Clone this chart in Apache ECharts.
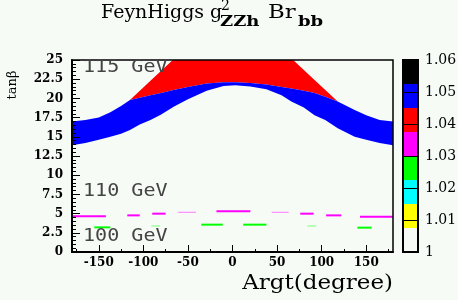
<!DOCTYPE html>
<html><head><meta charset="utf-8">
<script src="https://cdn.jsdelivr.net/npm/echarts@6/dist/echarts.min.js"></script>
<style>html,body{margin:0;padding:0;background:#f6fbf6}#c{width:458px;height:300px}</style>
</head><body><div id="c"></div>
<script>
// ---- data ----
const bandX      = [-180,-165,-150,-137,-125,-115,-104,-92,-80,-66,-50,-29,-10,3,20,38,55,66,80,92,104,118,137,150,165,180];
const blueTop    = [17.0,17.2,17.5,18.2,19.0,19.8,20.1,20.4,20.7,21.1,21.5,21.95,22.1,22.1,22.0,21.8,21.5,21.3,21.0,20.7,20.2,19.6,18.5,17.8,17.2,17.0];
const blueBottom = [13.9,14.2,14.6,15.0,15.4,15.9,16.6,17.2,17.9,18.9,19.9,21.0,21.6,21.7,21.55,21.2,20.4,19.6,18.8,17.8,17.2,16.1,15.0,14.6,14.2,13.9];
const redX   = [-115,-92,-67,68,92,118];
const redTop = [19.8,22.3,25,25,22.4,19.6];
const magX1 = [-180,-118,-90,-61,-18,44,76,105,143];
const magX2 = [-142,-104,-75,-41,20,63,91,122,180];
const magY  = [4.64,4.77,4.99,5.17,5.3,5.17,4.99,4.77,4.6];
const greenX1 = [-155,-91,-35,12,84,140];
const greenX2 = [-137,-81,-11,38,94,156];
const greenY  = [3.21,3.39,3.56,3.56,3.39,3.17];
const xTicks = [-150,-100,-50,0,50,100,150];
const xMinorTicks = [-175,-125,-75,-25,25,75,125,175];
const levels = [1,1.0075,1.015,1.0225,1.03,1.0375,1.045,1.0525,1.06];
// ---- styles ----
const BG = '#f6fbf6';
const levelColors = [BG,'#ffff00','#00ffff','#00ff00','#ff00ff','#ff0000','#0000ff','#000000'];
const magThin = [0,0,0,1,0,1,0,0,0];
const greenThin = [0,1,0,0,1,0];

const chart = echarts.init(document.getElementById('c'));
const tickFont = {fontFamily:'DejaVu Serif', fontWeight:'bold', fontSize:12, color:'#000'};

function segRender(color, light, thinArr){
  return function(params, api){
    const i = api.value(3);
    const p1 = api.coord([api.value(0), api.value(2)]);
    const p2 = api.coord([api.value(1), api.value(2)]);
    const thin = thinArr[i];
    return {type:'line', shape:{x1:p1[0],y1:p1[1],x2:p2[0],y2:p2[1]},
      style:{stroke: thin?light:color, lineWidth: thin?1:2, lineCap:'butt'}};
  };
}

const option = {
  backgroundColor: BG,
  animation: false,
  grid: [
    {left:72, top:60, width:321, height:192, outerBoundsMode:'none'},
    {left:403, top:60, width:15, height:192, outerBoundsMode:'none'}
  ],
  xAxis: [
    {gridIndex:0, type:'value', min:-180, max:180, position:'bottom', z:10,
     axisLine:{onZero:false, lineStyle:{color:'#000', width:2}},
     axisTick:{customValues:xTicks, inside:true, length:7, lineStyle:{color:'#000'}},
     axisLabel:Object.assign({customValues:xTicks, margin:5}, tickFont),
     splitLine:{show:false}},
    {gridIndex:0, type:'value', min:-180, max:180, position:'bottom', z:10,
     axisLine:{show:false, onZero:false},
     axisTick:{customValues:xMinorTicks, inside:true, length:3, lineStyle:{color:'#000'}},
     axisLabel:{show:false}, splitLine:{show:false}},
    {gridIndex:1, type:'value', min:0, max:1, show:false}
  ],
  yAxis: [
    {gridIndex:0, type:'value', min:0, max:25, interval:2.5, z:10,
     axisLine:{show:true, onZero:false, lineStyle:{color:'#000', width:2}},
     axisTick:{show:true, inside:true, length:8, lineStyle:{color:'#000'}},
     minorTick:{show:true, splitNumber:5, length:4, lineStyle:{color:'#000'}},
     axisLabel:Object.assign({margin:9}, tickFont),
     splitLine:{show:false}},
    {gridIndex:1, type:'value', min:1, max:1.06, interval:0.01, position:'right', z:10,
     axisLine:{show:false, onZero:false},
     axisTick:{show:true, inside:true, length:15, lineStyle:{color:'#000', width:1}},
     axisLabel:{margin:7, fontFamily:'DejaVu Serif', fontSize:14, color:'#000',
       formatter:v=> (Math.abs(v-1)<1e-9 ? '1' : v.toFixed(2))},
     splitLine:{show:false}}
  ],
  series: [
    {type:'custom', xAxisIndex:0, yAxisIndex:0, clip:true, data:[[0,0]],
     renderItem:function(params, api){
       const top = bandX.map((x,i)=>api.coord([x, blueTop[i]]));
       const bot = bandX.map((x,i)=>api.coord([x, blueBottom[i]])).reverse();
       const rTop = redX.map((x,i)=>api.coord([x, redTop[i]]));
       const rBot = bandX.map((x,i)=>[x, blueTop[i]])
         .filter(p=>p[0]>=redX[0] && p[0]<=redX[redX.length-1])
         .map(p=>api.coord(p)).reverse();
       return {type:'group', children:[
         {type:'polygon', shape:{points:rTop.concat(rBot)}, style:{fill:'#ff0000'}},
         {type:'polygon', shape:{points:top.concat(bot)}, style:{fill:'#0000ff'}}
       ]};
     }},
    {type:'custom', xAxisIndex:0, yAxisIndex:0, clip:true,
     data: magX1.map((x,i)=>[x, magX2[i], magY[i], i]),
     encode:{x:[0,1], y:2},
     renderItem: segRender('#ff00ff', '#ff77ff', magThin)},
    {type:'custom', xAxisIndex:0, yAxisIndex:0, clip:true,
     data: greenX1.map((x,i)=>[x, greenX2[i], greenY[i], i]),
     encode:{x:[0,1], y:2},
     renderItem: segRender('#00ff00', '#77ff77', greenThin)},
    {type:'custom', xAxisIndex:2, yAxisIndex:1,
     data: levelColors.map((c,i)=>[levels[i], levels[i+1], i]),
     encode:{y:[0,1]},
     renderItem:function(params, api){
       const i = api.value(2);
       const a = api.coord([0, api.value(1)]);
       const b = api.coord([1, api.value(0)]);
       return {type:'rect', shape:{x:a[0], y:a[1], width:b[0]-a[0], height:b[1]-a[1]},
         style:{fill:levelColors[i]}};
     }}
  ],
  graphic: [
    {type:'rect', z:100, shape:{x:72, y:60, width:321, height:192}, style:{fill:null, stroke:'#000', lineWidth:1.5}},
    {type:'rect', z:100, shape:{x:403, y:60, width:15, height:192}, style:{fill:null, stroke:'#000', lineWidth:2}},
    {type:'text', z:100, x:101, y:13, style:{text:'FeynHiggs g', font:'19px "DejaVu Serif"', fill:'#000', verticalAlign:'middle'}},
    {type:'text', z:100, x:221, y:6, style:{text:'2', font:'14px "DejaVu Serif"', fill:'#000', verticalAlign:'middle'}},
    {type:'text', z:100, x:220, y:22, scaleX:1.2, style:{text:'ZZh', font:'bold 15px "DejaVu Serif"', fill:'#000', verticalAlign:'middle'}},
    {type:'text', z:100, x:268, y:13, scaleX:1.2, style:{text:'Br', font:'19px "DejaVu Serif"', fill:'#000', verticalAlign:'middle'}},
    {type:'text', z:100, x:298, y:22, scaleX:1.2, style:{text:'bb', font:'bold 15px "DejaVu Serif"', fill:'#000', verticalAlign:'middle'}},
    {type:'text', z:100, x:12.5, y:85, rotation:Math.PI/2, style:{text:'tanβ', font:'13px "DejaVu Serif"', fill:'#000', align:'center', verticalAlign:'middle'}},
    {type:'text', z:100, x:393, y:284, scaleX:1.15, style:{text:'Argt(degree)', font:'20px "DejaVu Serif"', fill:'#000', align:'right', verticalAlign:'middle'}},
    {type:'text', z:100, x:83, y:68, scaleX:1.18, style:{text:'115 GeV', font:'17px "DejaVu Sans Mono"', fill:'#444', verticalAlign:'middle'}},
    {type:'text', z:100, x:83, y:191.5, scaleX:1.18, style:{text:'110 GeV', font:'17px "DejaVu Sans Mono"', fill:'#444', verticalAlign:'middle'}},
    {type:'text', z:100, x:83, y:237, scaleX:1.18, style:{text:'100 GeV', font:'17px "DejaVu Sans Mono"', fill:'#444', verticalAlign:'middle'}}
  ]
};
chart.setOption(option);
</script></body></html>
